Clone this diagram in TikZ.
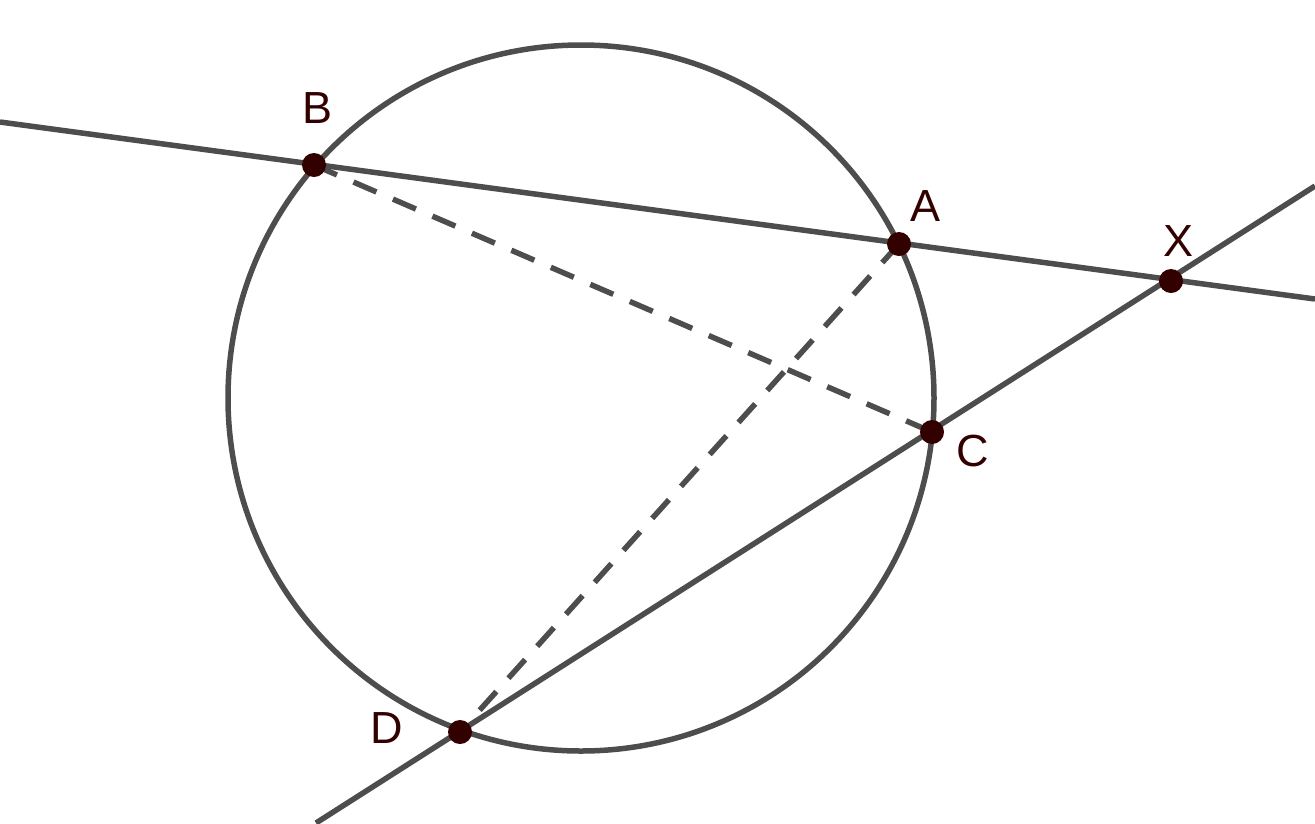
\documentclass[tikz,border=0pt]{standalone}
\usepackage{fontspec}
\setmainfont{Liberation Sans}
\begin{document}
\begin{tikzpicture}[x=1pt,y=-1pt,
  geo/.style={draw=linegray,line width=5.5pt},
  dsh/.style={geo,dash pattern=on 25pt off 18pt},
  pt/.style={circle,fill=ptred,inner sep=0pt,minimum size=24pt},
  lbl/.style={text=ptred,font=\fontsize{45}{45}\selectfont,inner sep=0pt}]
\definecolor{linegray}{HTML}{4D4D4D}
\definecolor{ptred}{HTML}{330000}
\useasboundingbox (0,0) rectangle (1315,823);
\coordinate (O) at (581,398);
\coordinate (L1a) at (0,122);
\coordinate (L1b) at (1315,299);
\coordinate (L2a) at (316,823);
\coordinate (L2b) at (1315,186);
\draw[geo] (O) circle (353);
\draw[geo] (L1a) -- (L1b);
\draw[geo] (L2a) -- (L2b);
\coordinate (Bc) at (314,165);
\coordinate (Ac) at (899,244);
\coordinate (Xc) at (1171,281);
\coordinate (Cc) at (932,432);
\coordinate (Dc) at (460,732);
\draw[dsh] (Bc) -- (Cc);
\draw[dsh] (Ac) -- (Dc);
\node[pt] (B) at (Bc) {};
\node[pt] (A) at (Ac) {};
\node[pt] (X) at (Xc) {};
\node[pt] (C) at (Cc) {};
\node[pt] (D) at (Dc) {};
\node[lbl] (lB) at (318,108) {B};
\node[lbl] (lA) at (925,206) {A};
\node[lbl] (lX) at (1178,241) {X};
\node[lbl] (lC) at (973,451) {C};
\node[lbl] (lD) at (387,728) {D};
\end{tikzpicture}
\end{document}
